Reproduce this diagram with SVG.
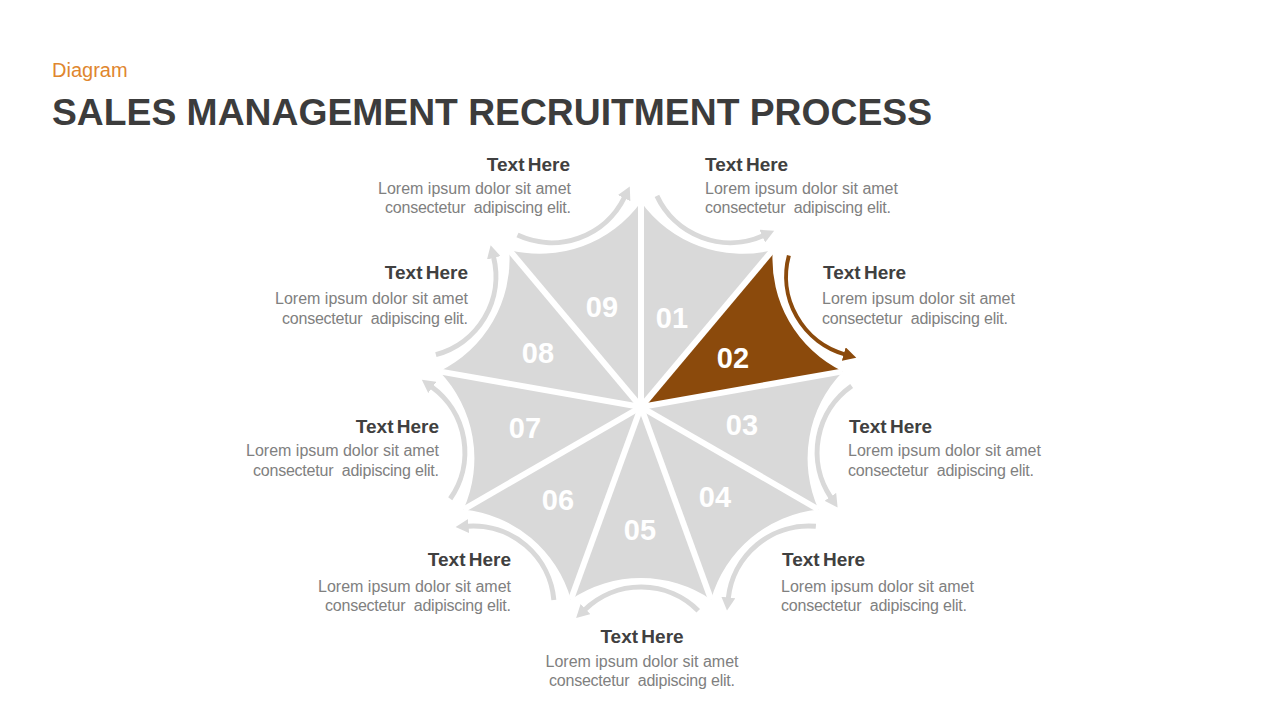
<svg xmlns="http://www.w3.org/2000/svg" width="1280" height="720" viewBox="0 0 1280 720">
<defs>
<style>
text{font-family:"Liberation Sans",Arial,sans-serif;white-space:pre}
.sub{font-size:20px;fill:#e0862e}
.ttl{font-size:37px;font-weight:bold;fill:#3c3c3c}
.wedge{fill:#d9d9d9}
.wedge.on{fill:#8b4a0c}
.num{font-size:29px;font-weight:bold;fill:#ffffff;text-anchor:middle}
.hd{font-size:19px;font-weight:bold;fill:#404040;word-spacing:-2px}
.ds{font-size:16px;fill:#808080}
.arr{fill:none;stroke:#d9d9d9;stroke-width:5;marker-end:url(#ahG)}
.arr.on{stroke:#8b4a0c;stroke-width:4;marker-end:url(#ahB)}
.spoke{stroke:#ffffff;stroke-width:6}
</style>
<marker id="ahG" markerUnits="userSpaceOnUse" markerWidth="14" markerHeight="14" refX="1" refY="7" orient="auto"><path d="M0,0 L13,7 L0,14 Z" fill="#d9d9d9"/></marker>
<marker id="ahB" markerUnits="userSpaceOnUse" markerWidth="14" markerHeight="14" refX="1" refY="7" orient="auto"><path d="M0,0 L13,7 L0,14 Z" fill="#8b4a0c"/></marker>
<path id="wd" d="M641,407 L641,202 A125,125 0 0 0 772.8,250 Z"/>
</defs>
<rect width="1280" height="720" fill="#ffffff"/>
<text class="sub" x="52" y="77">Diagram</text>
<text class="ttl" x="52" y="125" textLength="880" lengthAdjust="spacingAndGlyphs">SALES MANAGEMENT RECRUITMENT PROCESS</text>

<g id="node01"><use href="#wd" class="wedge"/><text class="num" x="672" y="328">01</text>
<text class="hd" x="705" y="171">Text Here</text><text class="ds" x="705" y="194">Lorem ipsum dolor sit amet</text><text class="ds" x="705" y="213" textLength="186">consectetur  adipiscing elit.</text></g>
<g id="node02"><use href="#wd" class="wedge on" transform="rotate(40 641 407)"/><text class="num" x="733" y="368">02</text>
<text class="hd" x="823" y="279">Text Here</text><text class="ds" x="822" y="304">Lorem ipsum dolor sit amet</text><text class="ds" x="822" y="324" textLength="186">consectetur  adipiscing elit.</text></g>
<g id="node03"><use href="#wd" class="wedge" transform="rotate(80 641 407)"/><text class="num" x="742" y="435">03</text>
<text class="hd" x="849" y="433">Text Here</text><text class="ds" x="848" y="456">Lorem ipsum dolor sit amet</text><text class="ds" x="848" y="476" textLength="186">consectetur  adipiscing elit.</text></g>
<g id="node04"><use href="#wd" class="wedge" transform="rotate(120 641 407)"/><text class="num" x="715" y="507">04</text>
<text class="hd" x="782" y="566">Text Here</text><text class="ds" x="781" y="592">Lorem ipsum dolor sit amet</text><text class="ds" x="781" y="611" textLength="186">consectetur  adipiscing elit.</text></g>
<g id="node05"><use href="#wd" class="wedge" transform="rotate(160 641 407)"/><text class="num" x="640" y="540">05</text>
<text class="hd" x="642" y="643" text-anchor="middle">Text Here</text><text class="ds" x="642" y="667" text-anchor="middle">Lorem ipsum dolor sit amet</text><text class="ds" x="642" y="686" text-anchor="middle" textLength="186">consectetur  adipiscing elit.</text></g>
<g id="node06"><use href="#wd" class="wedge" transform="rotate(200 641 407)"/><text class="num" x="558" y="510">06</text>
<text class="hd" x="511" y="566" text-anchor="end">Text Here</text><text class="ds" x="511" y="592" text-anchor="end">Lorem ipsum dolor sit amet</text><text class="ds" x="511" y="611" text-anchor="end" textLength="186">consectetur  adipiscing elit.</text></g>
<g id="node07"><use href="#wd" class="wedge" transform="rotate(240 641 407)"/><text class="num" x="525" y="438">07</text>
<text class="hd" x="439" y="433" text-anchor="end">Text Here</text><text class="ds" x="439" y="456" text-anchor="end">Lorem ipsum dolor sit amet</text><text class="ds" x="439" y="476" text-anchor="end" textLength="186">consectetur  adipiscing elit.</text></g>
<g id="node08"><use href="#wd" class="wedge" transform="rotate(280 641 407)"/><text class="num" x="538" y="363">08</text>
<text class="hd" x="468" y="279" text-anchor="end">Text Here</text><text class="ds" x="468" y="304" text-anchor="end">Lorem ipsum dolor sit amet</text><text class="ds" x="468" y="324" text-anchor="end" textLength="186">consectetur  adipiscing elit.</text></g>
<g id="node09"><use href="#wd" class="wedge" transform="rotate(320 641 407)"/><text class="num" x="602" y="317">09</text>
<text class="hd" x="570" y="171" text-anchor="end">Text Here</text><text class="ds" x="571" y="194" text-anchor="end">Lorem ipsum dolor sit amet</text><text class="ds" x="571" y="213" text-anchor="end" textLength="186">consectetur  adipiscing elit.</text></g>

<g id="spokes" class="spoke">
<line x1="641" y1="407" x2="641" y2="202"/>
<line x1="641" y1="407" x2="772.8" y2="250"/>
<line x1="641" y1="407" x2="842.9" y2="371.4"/>
<line x1="641" y1="407" x2="818.5" y2="509.5"/>
<line x1="641" y1="407" x2="711.1" y2="599.6"/>
<line x1="641" y1="407" x2="570.9" y2="599.6"/>
<line x1="641" y1="407" x2="463.5" y2="509.5"/>
<line x1="641" y1="407" x2="439.1" y2="371.4"/>
<line x1="641" y1="407" x2="509.2" y2="250"/>
</g>

<g id="connectors">
<path class="arr" d="M656.9,195.9 A81,81 0 0 0 763.2,235.7"/>
<path class="arr on" d="M656.9,195.9 A81,81 0 0 0 763.2,235.7" transform="rotate(40 641 407)"/>
<path class="arr" d="M656.9,195.9 A81,81 0 0 0 763.2,235.7" transform="rotate(80 641 407)"/>
<path class="arr" d="M656.9,195.9 A81,81 0 0 0 763.2,235.7" transform="rotate(120 641 407)"/>
<path class="arr" d="M656.9,195.9 A81,81 0 0 0 763.2,235.7" transform="rotate(160 641 407)"/>
<path class="arr" d="M656.9,195.9 A81,81 0 0 0 763.2,235.7" transform="rotate(200 641 407)"/>
<path class="arr" d="M656.9,195.9 A81,81 0 0 0 763.2,235.7" transform="rotate(240 641 407)"/>
<path class="arr" d="M656.9,195.9 A81,81 0 0 0 763.2,235.7" transform="rotate(280 641 407)"/>
<path class="arr" d="M656.9,195.9 A81,81 0 0 0 763.2,235.7" transform="rotate(320 641 407)"/>
</g>
</svg>
